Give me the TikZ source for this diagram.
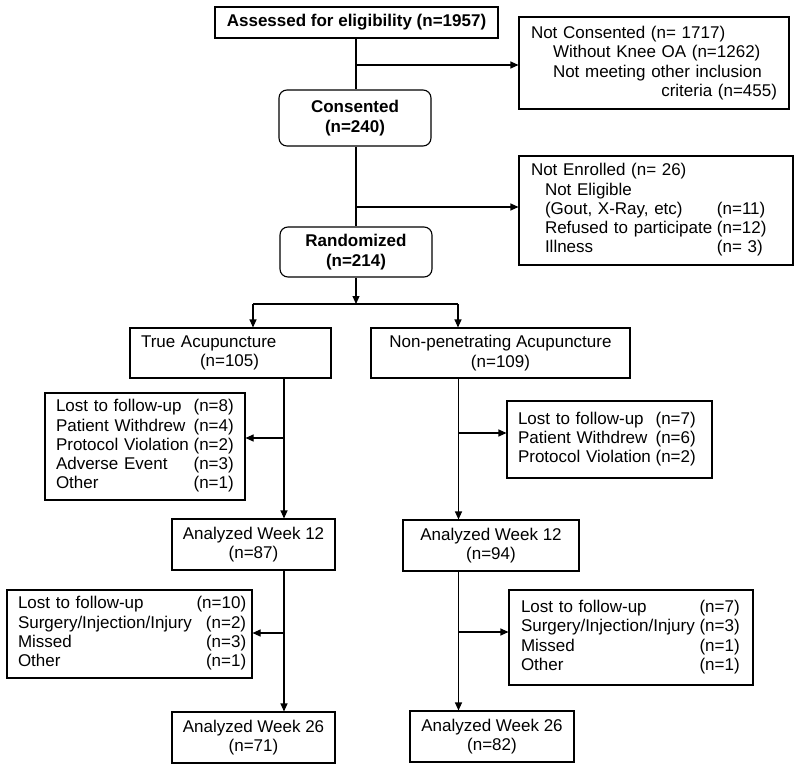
\documentclass[tikz,border=0pt]{standalone}
\usepackage{fontspec}
\setmainfont{Liberation Sans}
\usetikzlibrary{arrows.meta,calc}
\tikzset{
  base/.style={draw=black, line width=1.1pt, inner sep=0pt, font=\fontsize{17}{19.3}\selectfont},
  cbox/.style={base, align=center},
  rbox/.style={base, align=center, rounded corners=8pt},
  lbox/.style={base, align=left, inner xsep=11pt},
  conn/.style={line width=1.1pt},
  arr/.style={conn, -{Triangle[length=8pt,width=7pt]}}
}
\begin{document}
\begin{tikzpicture}[x=1pt,y=-1pt]
\useasboundingbox (0,0) rectangle (800,770);
% boxes
\node[cbox, minimum width=283, minimum height=31] (assess) at (356.5,22.5) {\bfseries Assessed for eligibility (n=1957)};
\node[lbox, inner xsep=12pt, text width=246pt, minimum height=92] (nc) at (654,63)
  {Not Consented (n= 1717)\\ \hspace*{22pt}Without Knee OA (n=1262)\\ \hspace*{22pt}Not meeting other inclusion\\ \hspace*{\fill}criteria (n=455)};
\node[rbox, minimum width=152, minimum height=56] (cons) at (355,118) {\bfseries Consented\\ \bfseries (n=240)};
\node[lbox, inner xsep=12pt, text width=250pt, minimum height=109] (ne) at (656,210.5)
  {\begin{tabular}{@{}l@{\hspace{4.7pt}}l@{}}
   \multicolumn{2}{@{}l@{}}{Not Enrolled (n= 26)}\\
   \hspace*{14pt}Not Eligible & \\
   \hspace*{14pt}(Gout, X-Ray, etc) & (n=11)\\
   \hspace*{14pt}Refused to participate & (n=12)\\
   \hspace*{14pt}Illness & (n= 3)
   \end{tabular}};
\node[rbox, minimum width=152, minimum height=50] (rand) at (356,252) {\bfseries Randomized\\ \bfseries (n=214)};
\node[lbox, text width=179pt, minimum height=50] (true) at (230.5,353) {True Acupuncture\\ \hspace*{59pt}(n=105)};
\node[cbox, minimum width=259, minimum height=50] (np) at (500.5,353) {Non-penetrating Acupuncture\\ (n=109)};
\node[lbox, text width=178pt, minimum height=107] (d1L) at (145,446.5)
  {\begin{tabular}{@{}l@{\hspace{4.7pt}}l@{}}
   Lost to follow-up & (n=8)\\
   Patient Withdrew & (n=4)\\
   Protocol Violation & (n=2)\\
   Adverse Event & (n=3)\\
   Other & (n=1)
   \end{tabular}};
\node[lbox, text width=183pt, minimum height=77] (d1R) at (609.5,439.5)
  {\begin{tabular}{@{}l@{\hspace{4.7pt}}l@{}}
   Lost to follow-up & (n=7)\\
   Patient Withdrew & (n=6)\\
   Protocol Violation & (n=2)
   \end{tabular}};
\node[cbox, minimum width=163, minimum height=51] (w12L) at (253.5,544.5) {Analyzed Week 12\\ (n=87)};
\node[cbox, minimum width=176, minimum height=51] (w12R) at (491,545.5) {Analyzed Week 12\\ (n=94)};
\node[lbox, text width=223pt, minimum height=88] (d2L) at (129.5,634)
  {\begin{tabular}{@{}l@{\hspace{4.7pt}}r@{}}
   Lost to follow-up & (n=10)\\
   Surgery/Injection/Injury & (n=2)\\
   Missed & (n=3)\\
   Other & (n=1)
   \end{tabular}};
\node[lbox, inner xsep=12pt, text width=220pt, minimum height=95] (d2R) at (631,637.5)
  {\begin{tabular}{@{}l@{\hspace{4.7pt}}r@{}}
   Lost to follow-up & (n=7)\\
   Surgery/Injection/Injury & (n=3)\\
   Missed & (n=1)\\
   Other & (n=1)
   \end{tabular}};
\node[cbox, minimum width=163, minimum height=51] (w26L) at (253.5,737.5) {Analyzed Week 26\\ (n=71)};
\node[cbox, minimum width=164, minimum height=51] (w26R) at (492,736.5) {Analyzed Week 26\\ (n=82)};
% coordinates
\coordinate (cx) at (356,0);
\coordinate (b1) at (356,65);
\coordinate (b2) at (356,207);
\coordinate (s) at (356,304);
\coordinate (sl) at (253,304);
\coordinate (sr) at (458,304);
\coordinate (vL) at (284,0);
\coordinate (vR) at (458.5,0);
\coordinate (bL1) at (284,438);
\coordinate (bR1) at (458.5,433);
\coordinate (bL2) at (284,633);
\coordinate (bR2) at (458.5,632);
% connectors
\draw[conn] (cx |- assess.south) -- (cx |- cons.north);
\draw[arr] (b1) -- (b1 -| nc.west);
\draw[conn] (cx |- cons.south) -- (cx |- rand.north);
\draw[arr] (b2) -- (b2 -| ne.west);
\draw[arr] (cx |- rand.south) -- (s);
\draw[conn] (sl) -- (sr);
\draw[arr] (sl) -- (sl |- true.north);
\draw[arr] (sr) -- (sr |- np.north);
\draw[arr] (vL |- true.south) -- (vL |- w12L.north);
\draw[arr] (bL1) -- (bL1 -| d1L.east);
\draw[arr] (vR |- np.south) -- (vR |- w12R.north);
\draw[arr] (bR1) -- (bR1 -| d1R.west);
\draw[arr] (vL |- w12L.south) -- (vL |- w26L.north);
\draw[arr] (bL2) -- (bL2 -| d2L.east);
\draw[arr] (vR |- w12R.south) -- (vR |- w26R.north);
\draw[arr] (bR2) -- (bR2 -| d2R.west);
\end{tikzpicture}
\end{document}
